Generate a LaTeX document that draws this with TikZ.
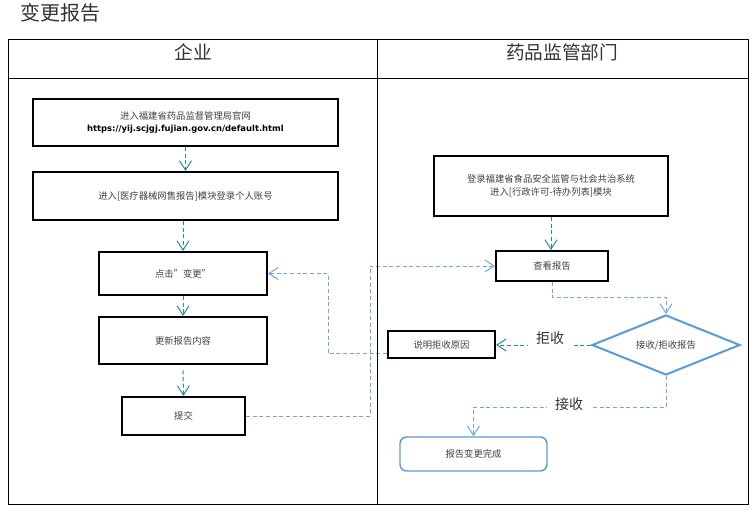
\documentclass[tikz,border=0pt]{standalone}
\usepackage{fontspec}
\setmainfont{Noto Sans CJK SC}
\newfontfamily\urlfont{DejaVu Sans}
\usepackage{tikz}
\usetikzlibrary{arrows.meta}
\usetikzlibrary{shapes.geometric}
\usetikzlibrary{calc}
\definecolor{flowteal}{HTML}{2B8C8C}
\definecolor{linkblue}{HTML}{6FA8DC}
\definecolor{judgeblue}{HTML}{5B9BD5}
\definecolor{txtgrey}{HTML}{404040}
\pgfdeclarelayer{nodelayer}
\pgfdeclarelayer{edgelayer}
\pgfsetlayers{edgelayer,nodelayer,main}
\tikzset{boxsize/.style 2 args={minimum width=#1*0.75pt, minimum height=#2*0.75pt}}
\tikzstyle{stepbox}=[shape=rectangle, draw=black, line width=1.5pt, inner sep=0pt,
  text=txtgrey, align=center, font=\fontsize{7}{10}\selectfont]
\tikzstyle{judge}=[shape=diamond, shape aspect=2.5, draw=judgeblue, line width=1.5pt, inner sep=0pt,
  text=txtgrey, font=\fontsize{7}{10}\selectfont]
\tikzstyle{finish}=[shape=rectangle, rounded corners=5pt, draw=judgeblue, line width=1.1pt,
  inner sep=0pt, text=txtgrey, font=\fontsize{7}{10}\selectfont]
\tikzstyle{lanehead}=[text=black!80, font=\fontsize{14}{16}\selectfont]
\tikzstyle{choice}=[fill=white, inner xsep=6pt, inner ysep=2pt, text=black!80, font=\fontsize{10.5}{12}\selectfont]
\tikzset{flow/.style={draw=flowteal, line width=0.75pt, dash pattern=on 3pt off 2pt,
  -{Straight Barb[length=7pt,width=9pt,line width=0.75pt]}}}
\tikzset{link/.style={draw=linkblue, line width=0.75pt, dash pattern=on 3pt off 2pt,
  -{Straight Barb[length=7pt,width=9pt,line width=0.75pt]}}}

\begin{document}
\begin{tikzpicture}[x=0.75pt, y=-0.75pt]
	\useasboundingbox (0,0) rectangle (754,510);
	% lanes
	\draw[line width=0.75pt] (8,40) rectangle (748,504);
	\draw[line width=0.75pt] (8,79) -- (748,79);
	\draw[line width=0.75pt] (377.5,40) -- (377.5,504);
	\begin{pgfonlayer}{nodelayer}
		\node [anchor=west, text=black!80, font=\fontsize{15}{17}\selectfont] (title) at (16,13) {变更报告};
		\node [style=lanehead] (qiye) at (193,52) {企业};
		\node [style=lanehead] (jianguan) at (562,52) {药品监管部门};
		% enterprise side
		\node [style=stepbox, boxsize={305}{47}] (guanwang) at (185.5,122.5)
			{进入福建省药品监督管理局官网\\[-1pt]{\urlfont\bfseries\fontsize{6.3}{8}\selectfont\color{black} https://yij.scjgj.fujian.gov.cn/default.html}};
		\node [style=stepbox, boxsize={305}{48}] (denglu) at (185.5,196) {进入[医疗器械网售报告]模块登录个人账号};
		\node [style=stepbox, boxsize={168}{43}] (dianji) at (183,273.5) {点击”变更”};
		\node [style=stepbox, boxsize={168}{47}] (gengxin) at (183,340.5) {更新报告内容};
		\node [style=stepbox, boxsize={123}{38}] (tijiao) at (183.5,416) {提交};
		% authority side
		\node [style=stepbox, boxsize={234}{60}] (xitong) at (551,186) {登录福建省食品安全监管与社会共治系统\\进入[行政许可-待办列表]模块};
		\node [style=stepbox, boxsize={112}{30}] (chakan) at (552,266) {查看报告};
		\node [style=judge, boxsize={148}{60}] (panduan) at (666,345) {接收/拒收报告};
		\node [style=stepbox, boxsize={107}{27}] (shuoming) at (441.5,344.5) {说明拒收原因};
		\node [style=finish, boxsize={147}{34}] (wancheng) at (473.5,454) {报告变更完成};
		\node [style=choice] (jushou) at (550,338) {拒收};
		\node [style=choice] (jieshou) at (569,404) {接收};
		\coordinate (backturn) at (328,273.5);
		\coordinate (submitturn) at (370,266);
		\coordinate (checkturn) at (666,297);
		\coordinate (acceptturn) at (473.5,407);
	\end{pgfonlayer}
	\begin{pgfonlayer}{edgelayer}
		\draw [style=flow] (guanwang.south) to (denglu.north);
		\draw [style=flow] (denglu.south -| dianji.north) to (dianji.north);
		\draw [style=flow] (dianji.south) to (gengxin.north);
		\draw [style=flow, shorten <=4pt] (gengxin.south) to (tijiao.north);
		\draw [style=flow] (xitong.south) to (xitong.south |- chakan.north);
		\draw [style=link] (tijiao.east) -| (submitturn) -- (chakan.west);
		\draw [style=link] (chakan.south) |- (checkturn) -- (panduan.north);
		\draw [style=flow] (panduan.west) to (panduan.west -| shuoming.east);
		\draw [style=link] ([yshift=-7pt]shuoming.west) -| (backturn) -- (dianji.east);
		\draw [style=link] (panduan.south) |- (acceptturn) -- (wancheng.north);
	\end{pgfonlayer}
\end{tikzpicture}
\end{document}
